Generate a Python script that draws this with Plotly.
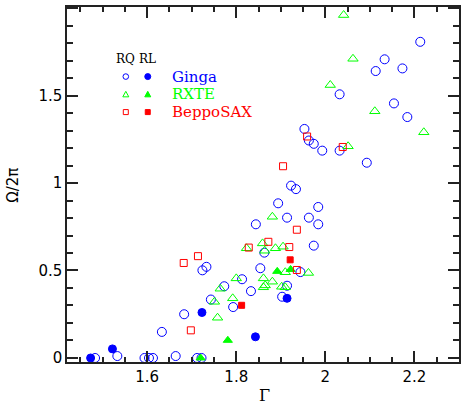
import plotly.graph_objects as go

# Gamma (x) and Omega/2pi (y)
ginga_rq_x = [2.213, 2.133, 2.113, 2.173, 2.032, 2.154, 2.184, 1.953, 1.963, 1.974,
              1.993, 2.032, 2.093, 1.923, 1.934, 1.894, 1.984, 1.914, 1.963, 1.844,
              1.984, 1.863, 1.974, 1.854, 1.944, 1.813, 1.914, 1.833, 1.903, 1.724,
              1.733, 1.773, 1.743, 1.793, 1.683, 1.633, 1.533, 1.483, 1.594, 1.604,
              1.613, 1.664, 1.712, 1.722]
ginga_rq_y = [1.807, 1.707, 1.640, 1.655, 1.507, 1.455, 1.377, 1.309, 1.243, 1.224,
              1.185, 1.185, 1.116, 0.985, 0.965, 0.884, 0.863, 0.802, 0.802, 0.764,
              0.764, 0.602, 0.642, 0.513, 0.491, 0.450, 0.413, 0.382, 0.350, 0.501,
              0.521, 0.410, 0.334, 0.291, 0.250, 0.149, 0.011, 0.0, 0.0, 0.0,
              0.0, 0.011, 0.0, 0.0]

ginga_rl_x = [1.914, 1.843, 1.723, 1.522, 1.473]
ginga_rl_y = [0.341, 0.121, 0.260, 0.052, 0.0]

rxte_rq_x = [2.041, 2.062, 2.011, 2.111, 2.221, 2.051, 1.881, 1.859, 1.823, 1.864,
             1.888, 1.905, 1.910, 1.962, 1.861, 1.881, 1.865, 1.861, 1.902, 1.910,
             1.800, 1.764, 1.751, 1.792, 1.758]
rxte_rq_y = [1.960, 1.710, 1.560, 1.410, 1.290, 1.210, 0.807, 0.655, 0.627, 0.613,
             0.627, 0.636, 0.490, 0.486, 0.455, 0.436, 0.415, 0.404, 0.407, 0.404,
             0.455, 0.396, 0.321, 0.341, 0.230]

rxte_rl_x = [1.892, 1.922, 1.781, 1.720]
rxte_rl_y = [0.495, 0.506, 0.101, 0.0]

sax_rq_x = [1.959, 2.039, 1.905, 1.936, 1.872, 1.919, 1.828, 1.936, 1.714, 1.682, 1.698]
sax_rq_y = [1.266, 1.206, 1.096, 0.733, 0.664, 0.634, 0.631, 0.503, 0.582, 0.543, 0.158]

sax_rl_x = [1.921, 1.812]
sax_rl_y = [0.561, 0.301]

BLUE = "#0000ff"
GREEN = "#00ff00"
RED = "#ff0000"
INK = "#222222"

fig = go.Figure()

def add(x, y, symbol, color, size):
    fig.add_trace(go.Scatter(x=x, y=y, mode="markers", showlegend=False,
                             marker=dict(symbol=symbol, color=color, size=size,
                                         line=dict(color=color, width=1))))

add(ginga_rq_x, ginga_rq_y, "circle-open", BLUE, 9)
add(ginga_rl_x, ginga_rl_y, "circle", BLUE, 8)
add(rxte_rq_x, rxte_rq_y, "triangle-up-open", GREEN, 9)
add(rxte_rl_x, rxte_rl_y, "triangle-up", GREEN, 8)
add(sax_rq_x, sax_rq_y, "square-open", RED, 7)
add(sax_rl_x, sax_rl_y, "square", RED, 6)

# hand-made legend: small shapes (pixel-sized) anchored in paper coords
leg_rows = [0.804, 0.754, 0.704]
leg_names = ["Ginga", "RXTE", "BeppoSAX"]
leg_colors = [BLUE, GREEN, RED]
col_rq, col_rl = 0.150, 0.206

shapes = []
def glyph(kind, xa, ya, color, filled):
    base = dict(xref="paper", yref="paper", xsizemode="pixel", ysizemode="pixel",
                xanchor=xa, yanchor=ya, line=dict(color=color, width=1),
                fillcolor=color if filled else "rgba(0,0,0,0)")
    if kind == "circle":
        r = 3 if filled else 2.8
        base.update(type="circle", x0=-r, x1=r, y0=-r, y1=r)
    elif kind == "square":
        base.update(type="rect", x0=-2.5, x1=2.5, y0=-2.5, y1=2.5)
    else:
        base.update(type="path", path="M -3,-2.5 L 3,-2.5 L 0,3 Z")
    shapes.append(base)

for yy, c, kind in zip(leg_rows, leg_colors, ["circle", "triangle", "square"]):
    glyph(kind, col_rq, yy, c, False)
    glyph(kind, col_rl, yy, c, True)

annotations = []
for xx, t in [(col_rq, "RQ"), (col_rl, "RL")]:
    annotations.append(dict(x=xx, y=0.854, xref="paper", yref="paper", text=t,
                            showarrow=False, xanchor="center", yanchor="middle",
                            font=dict(family="DejaVu Serif", size=12, color="black")))
for yy, name, c in zip(leg_rows, leg_names, leg_colors):
    annotations.append(dict(x=0.262, y=yy, xref="paper", yref="paper", text=name,
                            showarrow=False, xanchor="left", yanchor="middle",
                            font=dict(family="DejaVu Serif", size=15, color=c)))
annotations.append(dict(x=0.503, y=-0.093, xref="paper", yref="paper", text="Γ",
                        showarrow=False, xanchor="center", yanchor="middle",
                        font=dict(family="DejaVu Serif", size=16, color="black")))
annotations.append(dict(x=-0.138, y=0.499, xref="paper", yref="paper", text="Ω/2π",
                        showarrow=False, xanchor="center", yanchor="middle", textangle=-90,
                        font=dict(family="DejaVu Sans", size=15, color="black")))

axis_common = dict(showline=True, linecolor=INK, linewidth=1.5, mirror="ticks",
                   ticks="inside", tickcolor=INK, tickwidth=1.5, showgrid=False,
                   zeroline=False, automargin=False,
                   tickfont=dict(family="DejaVu Sans", size=15, color="black"))

fig.update_layout(
    template="none",
    width=463, height=410,
    margin=dict(l=67, r=4, t=7, b=48),
    plot_bgcolor="white", paper_bgcolor="white",
    annotations=annotations, shapes=shapes,
    xaxis=dict(range=[1.42, 2.30], dtick=0.2, tick0=1.6, ticklen=11,
               minor=dict(dtick=0.05, ticklen=5, ticks="inside", tickcolor=INK, tickwidth=1.5),
               **axis_common),
    yaxis=dict(range=[-0.023, 2.006], dtick=0.5, tick0=0, ticklen=11,
               minor=dict(dtick=0.1, ticklen=6, ticks="inside", tickcolor=INK, tickwidth=1.5),
               **axis_common),
)

fig.write_html("out.html", config={"displayModeBar": False},
               post_script="document.body.style.margin='0px';")
